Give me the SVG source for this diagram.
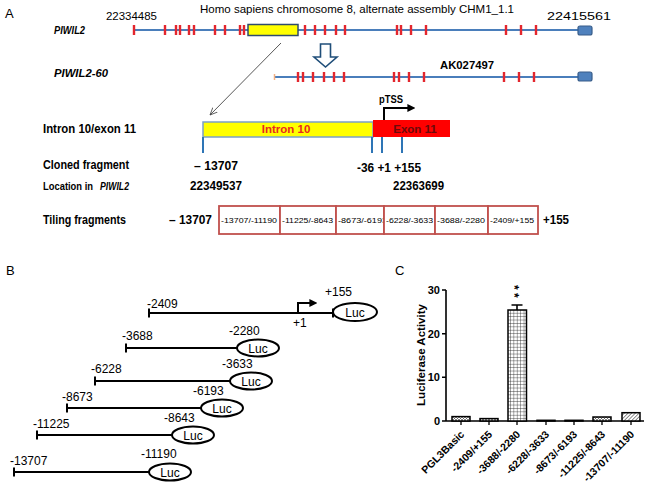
<svg xmlns="http://www.w3.org/2000/svg" width="648" height="485" viewBox="0 0 648 485">
<defs>
<style>
text{font-family:"Liberation Sans",Arial,sans-serif;fill:#000}
.b{font-weight:bold}
.bi{font-weight:bold;font-style:italic}
.t12{font-size:12px}
.t11{font-size:11.5px}
.gl{stroke:#4A7EBB;stroke-width:2;fill:none}
.rt{stroke:#E3262D;stroke-width:2.4;fill:none}
.bt{stroke:#2E75B6;stroke-width:2;fill:none}
.bl{stroke:#000;stroke-width:2;fill:none}
.luc{fill:#fff;stroke:#000;stroke-width:2}
.endbox{fill:#4F81BD;stroke:#385D8A;stroke-width:1.2}
.cell{fill:#fff;stroke:#C0504D;stroke-width:1.8}
.ct{font-size:8px}
.ax{font-size:11px;font-weight:bold}
.xl{font-size:10.5px;font-weight:bold}
.bar{stroke:#000;stroke-width:1.5}
</style>
<marker id="openArr" viewBox="0 0 10 10" refX="9" refY="5" markerWidth="9" markerHeight="9" orient="auto" markerUnits="strokeWidth">
<path d="M0,1 L9,5 L0,9" fill="none" stroke="#444" stroke-width="1"/>
</marker>
<marker id="blkArr" viewBox="0 0 10 10" refX="2" refY="5" markerWidth="4" markerHeight="4" orient="auto" markerUnits="strokeWidth">
<path d="M0,0 L10,5 L0,10 z" fill="#000"/>
</marker>
<pattern id="pDots" width="3" height="3" patternUnits="userSpaceOnUse">
<rect width="3" height="3" fill="#fff"/>
<path d="M0,0 L3,3 M3,0 L0,3" stroke="#555" stroke-width="0.7"/>
</pattern>
<pattern id="pGrid" width="3.4" height="3.4" patternUnits="userSpaceOnUse">
<rect width="3.4" height="3.4" fill="#fff"/>
<path d="M0,0 H3.4 M0,0 V3.4" stroke="#222" stroke-width="0.8"/>
</pattern>
<pattern id="pDiag" width="2.6" height="2.6" patternUnits="userSpaceOnUse" patternTransform="rotate(45)">
<rect width="2.6" height="2.6" fill="#fff"/>
<path d="M0,0 V2.6" stroke="#333" stroke-width="1.1"/>
</pattern>
</defs>
<rect width="648" height="485" fill="#fff"/>

<!-- Panel A -->
<g id="panelA-labels">
<text x="5" y="18" style="font-size:13px">A</text>
<text x="200" y="13" class="t11" textLength="314" lengthAdjust="spacingAndGlyphs">Homo sapiens chromosome 8, alternate assembly CHM1_1.1</text>
<text x="106" y="20" class="t11" textLength="51" lengthAdjust="spacingAndGlyphs">22334485</text>
<text x="547" y="20" class="t11" textLength="64" lengthAdjust="spacingAndGlyphs">22415561</text>
<text x="54" y="34" class="bi t11" textLength="31" lengthAdjust="spacingAndGlyphs">PIWIL2</text>
<text x="54" y="77" class="bi t11" textLength="54" lengthAdjust="spacingAndGlyphs">PIWIL2-60</text>
<text x="440" y="69" class="b t11" textLength="54" lengthAdjust="spacingAndGlyphs">AK027497</text>
</g>

<g id="gene-PIWIL2">
<line x1="133" y1="30" x2="582" y2="30" class="gl"/>
<path class="rt" d="M134,25V35 M165,25V35 M176,25V35 M180,25V35 M189,25V35 M194,25V35 M215,25V35 M225,25V35 M240,25V35 M244,25V35 M305,25V35 M315,25V35 M325,25V35 M336,25V35 M345,25V35 M397,25V35 M401,25V35 M411,25V35 M426,25V35 M506,25V35 M521,25V35 M536,25V35"/>
<rect x="248" y="24.5" width="50" height="11" fill="#FFFF00" stroke="#2F4B6E" stroke-width="1.5"/>
<rect x="578" y="26" width="14" height="9" rx="2" class="endbox"/>
</g>

<g id="gene-PIWIL2-60">
<line x1="274" y1="77" x2="582" y2="77" class="gl"/>
<line x1="274.5" y1="74" x2="274.5" y2="80" stroke="#F4B183" stroke-width="1.5"/>
<path class="rt" d="M298,72V82 M303,72V82 M313,72V82 M324,72V82 M334,72V82 M344,72V82 M394,72V82 M399,72V82 M409,72V82 M424,72V82 M504,72V82 M519,72V82 M534,72V82"/>
<rect x="578" y="72" width="14" height="9" rx="2" class="endbox"/>
</g>

<g id="intron-exon">
<text x="43" y="133" class="b t12" textLength="93" lengthAdjust="spacingAndGlyphs">Intron 10/exon 11</text>
<rect x="203" y="122" width="170" height="15" fill="#FFFF00" stroke="#7BA0C8" stroke-width="1.5"/>
<rect x="373" y="120" width="77" height="17" fill="#FF0000"/>
<text x="286" y="133" class="b" style="font-size:11.5px;fill:#E8281E" text-anchor="middle">Intron 10</text>
<text x="415" y="133" class="b" style="font-size:11.5px;fill:#6B0A0A" text-anchor="middle">Exon 11</text>
<path class="bt" d="M203,137V153 M372,137V153 M382,137V153 M402,137V153"/>
<text x="379" y="103" class="b t11" textLength="24" lengthAdjust="spacingAndGlyphs">pTSS</text>
</g>

<g id="cloned-fragment">
<text x="43" y="169" class="b t12" textLength="86" lengthAdjust="spacingAndGlyphs">Cloned fragment</text>
<text x="194" y="170" class="b t12" textLength="44" lengthAdjust="spacingAndGlyphs">– 13707</text>
<text x="357" y="172" class="b t12" textLength="64" lengthAdjust="spacingAndGlyphs">-36  +1 +155</text>
<text x="43" y="190" class="b" style="font-size:10.5px" textLength="50" lengthAdjust="spacingAndGlyphs">Location in</text>
<text x="100" y="190" class="bi" style="font-size:11px" textLength="29" lengthAdjust="spacingAndGlyphs">PIWIL2</text>
<text x="190" y="190" class="b t12" textLength="52" lengthAdjust="spacingAndGlyphs">22349537</text>
<text x="393" y="190" class="b t12" textLength="51" lengthAdjust="spacingAndGlyphs">22363699</text>
</g>

<g id="tiling-fragments">
<text x="43" y="224" class="b t12" textLength="83" lengthAdjust="spacingAndGlyphs">Tiling fragments</text>
<text x="169" y="224" class="b t12" textLength="43" lengthAdjust="spacingAndGlyphs">– 13707</text>
<rect x="219" y="206" width="61" height="28" class="cell"/>
<text x="221" y="223" class="ct" textLength="56" lengthAdjust="spacingAndGlyphs">-13707/-11190</text>
<rect x="280" y="206" width="56" height="28" class="cell"/>
<text x="282" y="223" class="ct" textLength="51" lengthAdjust="spacingAndGlyphs">-11225/-8643</text>
<rect x="336" y="206" width="48" height="28" class="cell"/>
<text x="338" y="223" class="ct" textLength="49" lengthAdjust="spacingAndGlyphs">-8673/-6193</text>
<rect x="384" y="206" width="51" height="28" class="cell"/>
<text x="386" y="223" class="ct" textLength="47" lengthAdjust="spacingAndGlyphs">-6228/-3633</text>
<rect x="435" y="206" width="53" height="28" class="cell"/>
<text x="437" y="223" class="ct" textLength="48" lengthAdjust="spacingAndGlyphs">-3688/-2280</text>
<rect x="488" y="206" width="50" height="28" class="cell"/>
<text x="490" y="223" class="ct" textLength="44" lengthAdjust="spacingAndGlyphs">-2409/+155</text>
<text x="543" y="224" class="b t12" textLength="26" lengthAdjust="spacingAndGlyphs">+155</text>
</g>

<g id="connectors">
<line x1="281" y1="43" x2="210" y2="115" stroke="#444" stroke-width="0.9" marker-end="url(#openArr)"/>
<path d="M320.5,44 H330.5 V57 H337 L325.5,67 L314,57 H320.5 Z" fill="#fff" stroke="#1F4E79" stroke-width="1.6" stroke-linejoin="miter"/>
<path d="M384,120 V108 H409" class="bl" marker-end="url(#blkArr)"/>
</g>

<!-- Panel B -->
<g id="panelB">
<text x="6" y="275" style="font-size:13px">B</text>
</g>
<g id="construct-1">
<text x="147" y="308" class="t12">-2409</text>
<path d="M149,313 H333 M149,308.5 V317.5 M333,308.5 V317.5" class="bl"/>
<path d="M298,313 V303 H311" class="bl" marker-end="url(#blkArr)"/>
<text x="293" y="327" class="t12">+1</text>
<text x="325" y="296" class="t12">+155</text>
<ellipse cx="355" cy="312" rx="22" ry="9" class="luc"/>
<text x="355" y="316.5" class="t12" text-anchor="middle">Luc</text>
</g>
<g id="construct-2">
<text x="122" y="340" class="t12">-3688</text>
<text x="229" y="335" class="t12">-2280</text>
<path d="M126,348 H237 M126,343.5 V352.5" class="bl"/>
<ellipse cx="258" cy="348" rx="21" ry="8.5" class="luc"/>
<text x="258" y="352.5" class="t12" text-anchor="middle">Luc</text>
</g>
<g id="construct-3">
<text x="91" y="373" class="t12">-6228</text>
<text x="222" y="368" class="t12">-3633</text>
<path d="M95,381 H230 M95,376.5 V385.5" class="bl"/>
<ellipse cx="251" cy="381" rx="21" ry="8.5" class="luc"/>
<text x="251" y="385.5" class="t12" text-anchor="middle">Luc</text>
</g>
<g id="construct-4">
<text x="62" y="401" class="t12">-8673</text>
<text x="193" y="395" class="t12">-6193</text>
<path d="M67,408 H201 M67,403.5 V412.5" class="bl"/>
<ellipse cx="222" cy="408" rx="21" ry="8.5" class="luc"/>
<text x="222" y="412.5" class="t12" text-anchor="middle">Luc</text>
</g>
<g id="construct-5">
<text x="33" y="428" class="t12">-11225</text>
<text x="164" y="422" class="t12">-8643</text>
<path d="M37,435 H172 M37,430.5 V439.5" class="bl"/>
<ellipse cx="193" cy="435" rx="21" ry="8.5" class="luc"/>
<text x="193" y="439.5" class="t12" text-anchor="middle">Luc</text>
</g>
<g id="construct-6">
<text x="10" y="465" class="t12">-13707</text>
<text x="141" y="458" class="t12">-11190</text>
<path d="M14,472 H149 M14,467.5 V476.5" class="bl"/>
<ellipse cx="170" cy="472" rx="21" ry="8.5" class="luc"/>
<text x="170" y="476.5" class="t12" text-anchor="middle">Luc</text>
</g>

<!-- Panel C -->
<g id="panelC">
<text x="395" y="275" style="font-size:13px">C</text>
<text transform="translate(425,355) rotate(-90)" class="b" style="font-size:11.5px" text-anchor="middle">Luciferase Activity</text>
<g id="axes">
<path d="M446,290 V421 H644 M442,290 H446 M442,333.7 H446 M442,377.3 H446 M442,421 H446" stroke="#000" stroke-width="1.6" fill="none"/>
<path d="M461,421 V425 M489,421 V425 M517,421 V425 M546,421 V425 M574,421 V425 M602,421 V425 M631,421 V425" stroke="#000" stroke-width="1.3"/>
<text x="440" y="294" class="ax" text-anchor="end">30</text>
<text x="440" y="337.7" class="ax" text-anchor="end">20</text>
<text x="440" y="381.3" class="ax" text-anchor="end">10</text>
<text x="440" y="425" class="ax" text-anchor="end">0</text>
</g>
<g id="bars">
<rect x="452" y="416.6" width="18" height="4.4" fill="url(#pDots)" class="bar"/>
<rect x="480" y="418.6" width="18" height="2.4" fill="url(#pDots)" class="bar"/>
<rect x="508" y="310" width="18.5" height="111" fill="url(#pGrid)" class="bar"/>
<path d="M517,310 V305 M511.5,305 H522.5" stroke="#000" stroke-width="1.6"/>
<rect x="537" y="420.3" width="18" height="0.7" fill="#fff" class="bar"/>
<rect x="565" y="420.3" width="18" height="0.7" fill="#fff" class="bar"/>
<rect x="593" y="417" width="18" height="4" fill="url(#pDots)" class="bar"/>
<rect x="622" y="412.7" width="18" height="8.3" fill="url(#pDiag)" class="bar"/>
<text transform="translate(509.5,293) rotate(90)" class="b" style="font-size:12px;letter-spacing:3.3px" text-anchor="middle">**</text>
</g>
<g id="xlabels">
<text transform="translate(465,435) rotate(-45)" class="xl" text-anchor="end">PGL3Basic</text>
<text transform="translate(493,435) rotate(-45)" class="xl" text-anchor="end">-2409/+155</text>
<text transform="translate(521,435) rotate(-45)" class="xl" text-anchor="end">-3688/-2280</text>
<text transform="translate(550,435) rotate(-45)" class="xl" text-anchor="end">-6228/-3633</text>
<text transform="translate(578,435) rotate(-45)" class="xl" text-anchor="end">-8673/-6193</text>
<text transform="translate(606,435) rotate(-45)" class="xl" text-anchor="end">-11225/-8643</text>
<text transform="translate(635,435) rotate(-45)" class="xl" text-anchor="end">-13707/-11190</text>
</g>
</g>
</svg>
